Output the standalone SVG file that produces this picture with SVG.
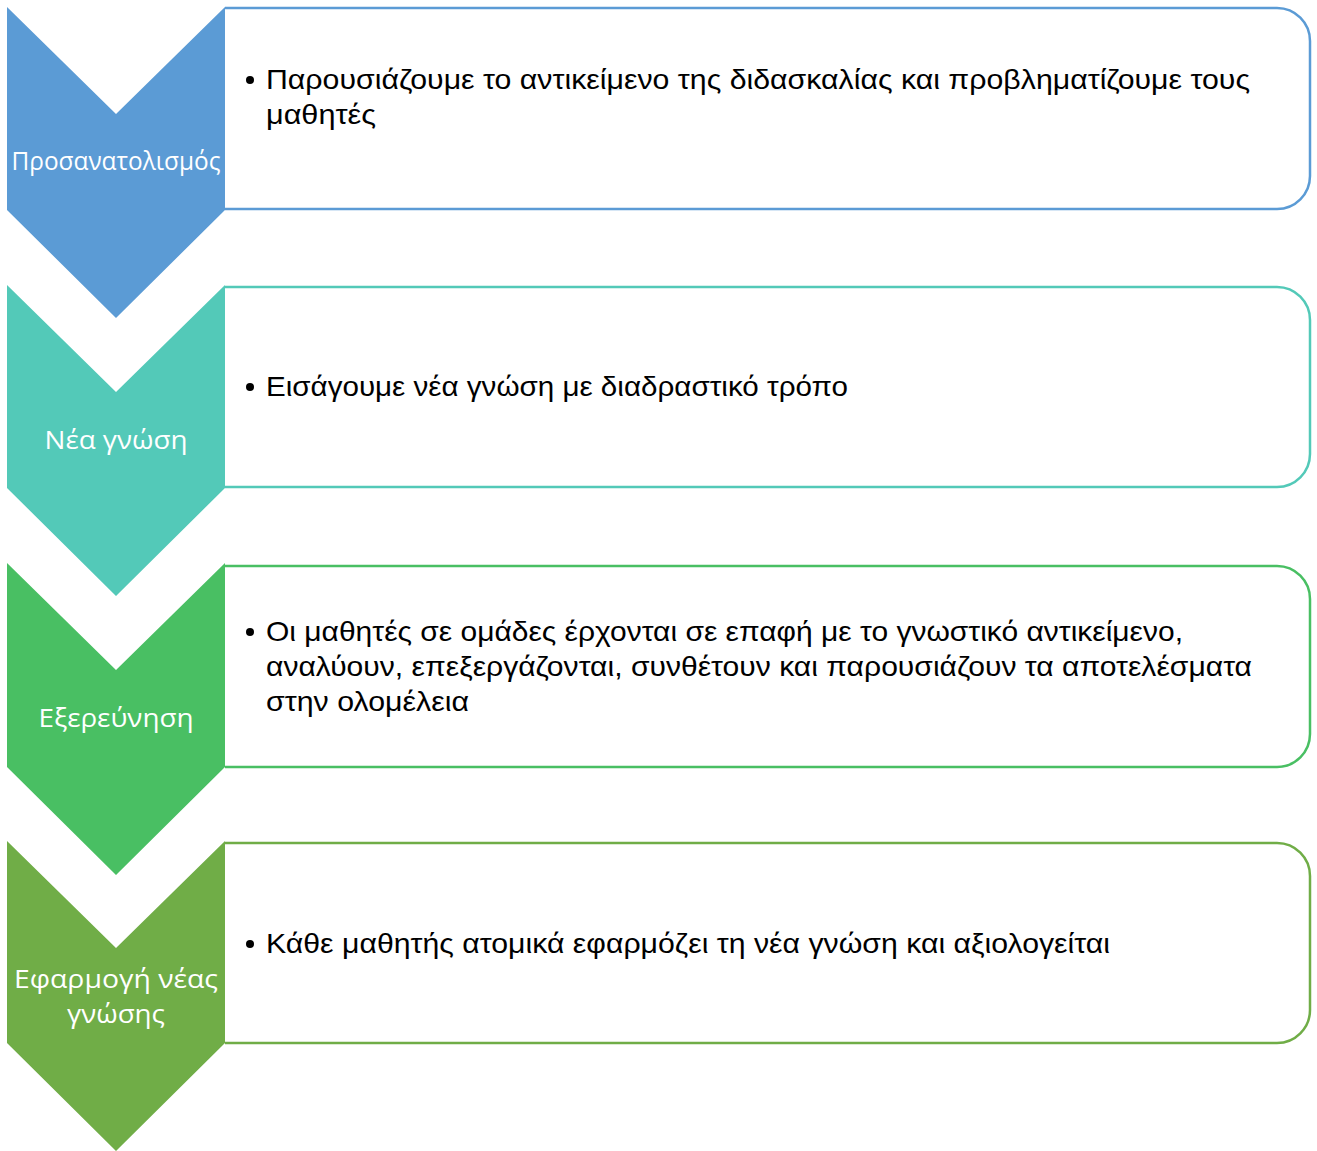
<svg xmlns="http://www.w3.org/2000/svg" width="1317" height="1151" viewBox="0 0 1317 1151">
<style>
.box{fill:#fff;stroke-width:2.5}
.lbl{font-family:"Open Sans","Noto Sans","Liberation Sans",sans-serif;font-size:25px;fill:#fff;text-anchor:middle}
.txt{font-family:"Liberation Sans",Arial,sans-serif;font-size:28px;fill:#000}
.bul{fill:#000}
</style>
<rect width="1317" height="1151" fill="#fff"/>
<g id="connectors"></g>
<g id="step1">
<path class="box" stroke="#5B9BD5" d="M225,8 H1277 A33,33 0 0 1 1310,41 V176 A33,33 0 0 1 1277,209 H225"/>
<path fill="#5B9BD5" d="M7,7 L116,114 L225,7 L225,210 L116,318 L7,210 Z"/>
<text class="lbl" x="116" y="170" textLength="209" lengthAdjust="spacingAndGlyphs">Προσανατολισμός</text>
<circle class="bul" cx="250" cy="80" r="4"/>
<text class="txt" x="266" y="89" textLength="984" lengthAdjust="spacingAndGlyphs">Παρουσιάζουμε το αντικείμενο της διδασκαλίας και προβληματίζουμε τους</text>
<text class="txt" x="266" y="124" textLength="110" lengthAdjust="spacingAndGlyphs">μαθητές</text>
</g>
<g id="step2">
<path class="box" stroke="#53C9B8" d="M225,287 H1277 A33,33 0 0 1 1310,320 V454 A33,33 0 0 1 1277,487 H225"/>
<path fill="#53C9B8" d="M7,285 L116,392 L225,285 L225,488 L116,596 L7,488 Z"/>
<text class="lbl" x="116" y="449" textLength="143" lengthAdjust="spacingAndGlyphs">Νέα γνώση</text>
<circle class="bul" cx="250" cy="387" r="4"/>
<text class="txt" x="266" y="396" textLength="582" lengthAdjust="spacingAndGlyphs">Εισάγουμε νέα γνώση με διαδραστικό τρόπο</text>
</g>
<g id="step3">
<path class="box" stroke="#49BF63" d="M225,566 H1277 A33,33 0 0 1 1310,599 V734 A33,33 0 0 1 1277,767 H225"/>
<path fill="#49BF63" d="M7,563 L116,670 L225,563 L225,767 L116,875 L7,767 Z"/>
<text class="lbl" x="116" y="727" textLength="155" lengthAdjust="spacingAndGlyphs">Εξερεύνηση</text>
<circle class="bul" cx="250" cy="632" r="4"/>
<text class="txt" x="266" y="641" textLength="917" lengthAdjust="spacingAndGlyphs">Οι μαθητές σε ομάδες έρχονται σε επαφή με το γνωστικό αντικείμενο,</text>
<text class="txt" x="266" y="676" textLength="986" lengthAdjust="spacingAndGlyphs">αναλύουν, επεξεργάζονται, συνθέτουν και παρουσιάζουν τα αποτελέσματα</text>
<text class="txt" x="266" y="711" textLength="203" lengthAdjust="spacingAndGlyphs">στην ολομέλεια</text>
</g>
<g id="step4">
<path class="box" stroke="#70AD47" d="M225,843 H1277 A33,33 0 0 1 1310,876 V1010 A33,33 0 0 1 1277,1043 H225"/>
<path fill="#70AD47" d="M7,841 L116,948 L225,841 L225,1043 L116,1151 L7,1043 Z"/>
<text class="lbl" x="116" y="988" textLength="204" lengthAdjust="spacingAndGlyphs">Εφαρμογή νέας</text>
<text class="lbl" x="116" y="1023" textLength="98" lengthAdjust="spacingAndGlyphs">γνώσης</text>
<circle class="bul" cx="250" cy="944" r="4"/>
<text class="txt" x="266" y="953" textLength="844" lengthAdjust="spacingAndGlyphs">Κάθε μαθητής ατομικά εφαρμόζει τη νέα γνώση και αξιολογείται</text>
</g>
</svg>
